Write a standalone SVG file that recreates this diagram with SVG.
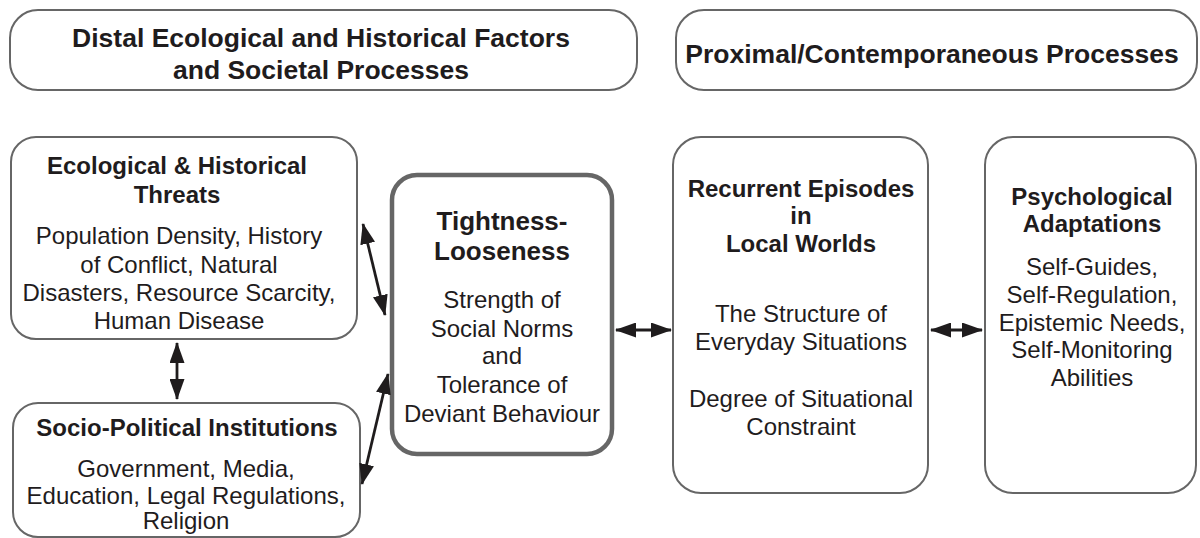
<svg xmlns="http://www.w3.org/2000/svg" width="1200" height="538" viewBox="0 0 1200 538">
<style>
.box{fill:#fff;stroke:#666;stroke-width:2}
.thick{fill:#fff;stroke:#666;stroke-width:4.5}
.t{font-family:"Liberation Sans",Arial,sans-serif;text-anchor:middle;fill:#1f1c1d}
.h{font-size:26.5px;font-weight:bold}
.b{font-size:24px;font-weight:bold}
.r{font-size:24px}
.tb{font-size:26px;font-weight:bold}
.c{stroke:#1f1c1d;stroke-width:2.8;fill:none;marker-start:url(#ah);marker-end:url(#ah)}
</style>
<defs>
<marker id="ah" viewBox="0 0 21 15" refX="20" refY="7.5" markerWidth="21" markerHeight="15" markerUnits="userSpaceOnUse" orient="auto-start-reverse">
<path d="M0,0 L21,7.5 L0,15 z" fill="#1f1c1d"/>
</marker>
</defs>
<g id="header-distal">
<rect class="box" x="10" y="10" width="627" height="80" rx="28"/>
<text class="t h" x="321" y="47">Distal Ecological and Historical Factors</text>
<text class="t h" x="321" y="79">and Societal Processes</text>
</g>
<g id="header-proximal">
<rect class="box" x="676" y="10" width="521" height="80" rx="28"/>
<text class="t h" x="932" y="63">Proximal/Contemporaneous Processes</text>
</g>
<g id="eco">
<rect class="box" x="11" y="137" width="346" height="202" rx="25"/>
<text class="t b" x="177" y="174">Ecological &amp; Historical</text>
<text class="t b" x="177" y="203">Threats</text>
<text class="t r" x="179" y="244">Population Density, History</text>
<text class="t r" x="179" y="273">of Conflict, Natural</text>
<text class="t r" x="179" y="301">Disasters, Resource Scarcity,</text>
<text class="t r" x="179" y="329">Human Disease</text>
</g>
<g id="socio">
<rect class="box" x="13" y="403" width="347" height="134" rx="25"/>
<text class="t b" x="187" y="436">Socio-Political Institutions</text>
<text class="t r" x="186" y="477">Government, Media,</text>
<text class="t r" x="186" y="504">Education, Legal Regulations,</text>
<text class="t r" x="186" y="529">Religion</text>
</g>
<g id="tightness">
<rect class="thick" x="392" y="175" width="220" height="279" rx="25"/>
<text class="t tb" x="502" y="230">Tightness-</text>
<text class="t tb" x="502" y="260">Looseness</text>
<text class="t r" x="502" y="308">Strength of</text>
<text class="t r" x="502" y="337">Social Norms</text>
<text class="t r" x="502" y="364">and</text>
<text class="t r" x="502" y="393">Tolerance of</text>
<text class="t r" x="502" y="422">Deviant Behaviour</text>
</g>
<g id="recurrent">
<rect class="box" x="673" y="137" width="255" height="356" rx="28"/>
<text class="t b" x="801" y="197">Recurrent Episodes</text>
<text class="t b" x="801" y="224">in</text>
<text class="t b" x="801" y="252">Local Worlds</text>
<text class="t r" x="801" y="322">The Structure of</text>
<text class="t r" x="801" y="350">Everyday Situations</text>
<text class="t r" x="801" y="407">Degree of Situational</text>
<text class="t r" x="801" y="435">Constraint</text>
</g>
<g id="psych">
<rect class="box" x="985" y="137" width="211" height="356" rx="28"/>
<text class="t b" x="1092" y="205">Psychological</text>
<text class="t b" x="1092" y="232">Adaptations</text>
<text class="t r" x="1092" y="275">Self-Guides,</text>
<text class="t r" x="1092" y="303">Self-Regulation,</text>
<text class="t r" x="1092" y="331">Epistemic Needs,</text>
<text class="t r" x="1092" y="358">Self-Monitoring</text>
<text class="t r" x="1092" y="386">Abilities</text>
</g>
<g id="connectors">
<line class="c" x1="363" y1="224" x2="385" y2="315"/>
<line class="c" x1="362" y1="484" x2="388" y2="374"/>
<line class="c" x1="177" y1="343" x2="177" y2="399"/>
<line class="c" x1="616" y1="330" x2="671" y2="330"/>
<line class="c" x1="931" y1="330" x2="982" y2="330"/>
</g>
</svg>
